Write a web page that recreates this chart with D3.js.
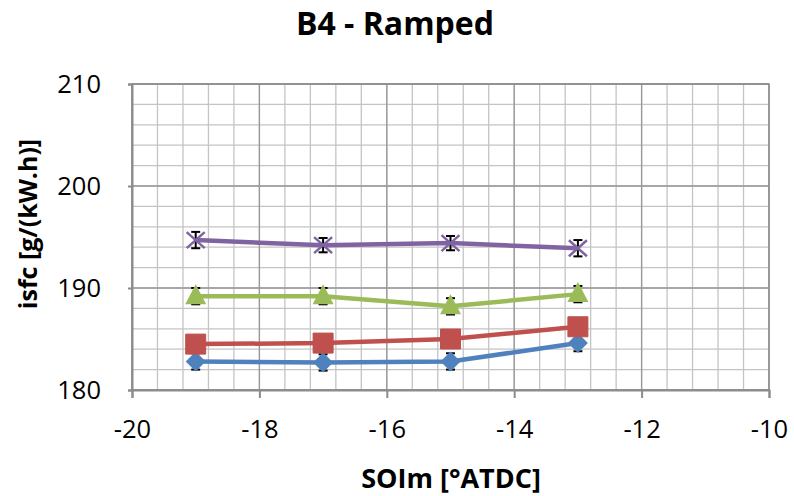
<!DOCTYPE html>
<html>
<head>
<meta charset="utf-8">
<script src="https://cdn.jsdelivr.net/npm/d3@7"></script>
<style>
  body { margin: 0; background: #fff; }
  text { font-family: "Open Sans", sans-serif; fill: #000; }
</style>
</head>
<body>
<div id="chart"></div>
<script>
// SOI of main injection, deg ATDC
var soim = [-19, -17, -15, -13];

// isfc values per series, g/(kW.h)
var blueVals   = [182.8, 182.7, 182.8, 184.6];
var redVals    = [184.5, 184.6, 185.0, 186.2];
var greenVals  = [189.2, 189.2, 188.2, 189.4];
var purpleVals = [194.7, 194.2, 194.4, 193.9];

// error bar half widths
var blueErr   = [0.8, 0.8, 0.8, 0.8];
var redErr    = [0.8, 0.8, 0.8, 0.8];
var greenErr  = [0.8, 0.8, 0.8, 0.8];
var purpleErr = [0.8, 0.7, 0.7, 0.8];

var xTicks = [-20, -18, -16, -14, -12, -10];
var yTicks = [180, 190, 200, 210];

var width = 794, height = 496;
var mLeft = 132, mRight = 769, mTop = 84, mBottom = 390;

var series = [
  {name: "blue",   vals: blueVals,   err: blueErr,   color: "#4F81BD", marker: "diamond"},
  {name: "red",    vals: redVals,    err: redErr,    color: "#C0504D", marker: "square"},
  {name: "green",  vals: greenVals,  err: greenErr,  color: "#9BBB59", marker: "triangle"},
  {name: "purple", vals: purpleVals, err: purpleErr, color: "#8064A2", marker: "x"}
];

var svg = d3.select("#chart")
  .append("svg")
  .attr("width", width)
  .attr("height", height);

var x = d3.scaleLinear().domain([-20, -10]).range([mLeft, mRight]);
var y = d3.scaleLinear().domain([180, 210]).range([mBottom, mTop]);

// minor grid
var grid = svg.append("g").attr("class", "grid");
grid.selectAll("line.vminor")
  .data(d3.range(-20, -10.001, 0.4))
  .enter().append("line")
  .attr("x1", function(d) { return x(d); })
  .attr("x2", function(d) { return x(d); })
  .attr("y1", mTop).attr("y2", mBottom)
  .attr("stroke", "#c4c4c4").attr("stroke-width", 1.3);
grid.selectAll("line.hminor")
  .data(d3.range(180, 210.001, 2))
  .enter().append("line")
  .attr("y1", function(d) { return y(d); })
  .attr("y2", function(d) { return y(d); })
  .attr("x1", mLeft).attr("x2", mRight)
  .attr("stroke", "#c4c4c4").attr("stroke-width", 1.3);
// major grid
grid.selectAll("line.vmajor")
  .data(xTicks)
  .enter().append("line")
  .attr("x1", function(d) { return x(d); })
  .attr("x2", function(d) { return x(d); })
  .attr("y1", mTop).attr("y2", mBottom)
  .attr("stroke", "#989898").attr("stroke-width", 1.3);
grid.selectAll("line.hmajor")
  .data(yTicks)
  .enter().append("line")
  .attr("y1", function(d) { return y(d); })
  .attr("y2", function(d) { return y(d); })
  .attr("x1", mLeft).attr("x2", mRight)
  .attr("stroke", "#989898").attr("stroke-width", 1.3);

var fmt = function(d) { return String(d); };

// axes
var xAxis = svg.append("g")
  .attr("transform", "translate(0," + mBottom + ")")
  .call(d3.axisBottom(x).tickValues(xTicks).tickSize(8).tickPadding(22).tickFormat(fmt));
var yAxis = svg.append("g")
  .attr("transform", "translate(" + mLeft + ",0)")
  .call(d3.axisLeft(y).tickValues(yTicks).tickSize(4).tickPadding(27).tickFormat(fmt));
[xAxis, yAxis].forEach(function(a) {
  a.select(".domain").attr("stroke", "#8c8c8c").attr("stroke-width", 2);
  a.selectAll(".tick line").attr("stroke", "#8c8c8c").attr("stroke-width", 2);
  a.selectAll(".tick text").style("font-size", "25.5px").style("font-family", "Open Sans").attr("fill", "#000");
});
svg.append("rect")
  .attr("x", mLeft).attr("y", mTop)
  .attr("width", mRight - mLeft).attr("height", mBottom - mTop)
  .attr("fill", "none").attr("stroke", "#8c8c8c").attr("stroke-width", 1.5);

var line = d3.line()
  .x(function(d) { return x(d[0]); })
  .y(function(d) { return y(d[1]); });

series.forEach(function(s) {
  var pts = soim.map(function(v, i) { return [v, s.vals[i], s.err[i]]; });
  var g = svg.append("g").attr("class", "series-" + s.name);

  g.append("path")
    .datum(pts)
    .attr("d", line)
    .attr("fill", "none")
    .attr("stroke", s.color)
    .attr("stroke-width", 4.5);

  // error bars
  var eb = g.selectAll("g.err").data(pts).enter().append("g");
  eb.append("line")
    .attr("x1", function(d) { return x(d[0]); })
    .attr("x2", function(d) { return x(d[0]); })
    .attr("y1", function(d) { return y(d[1] - d[2]); })
    .attr("y2", function(d) { return y(d[1] + d[2]); })
    .attr("stroke", "#000").attr("stroke-width", 2);
  [-1, 1].forEach(function(sg) {
    eb.append("line")
      .attr("x1", function(d) { return x(d[0]) - 4.5; })
      .attr("x2", function(d) { return x(d[0]) + 4.5; })
      .attr("y1", function(d) { return y(d[1] + sg * d[2]); })
      .attr("y2", function(d) { return y(d[1] + sg * d[2]); })
      .attr("stroke", "#000").attr("stroke-width", 2);
  });

  var m = g.selectAll("path.marker").data(pts).enter().append("path")
    .attr("transform", function(d) { return "translate(" + x(d[0]) + "," + y(d[1]) + ")"; });
  if (s.marker === "diamond") {
    m.attr("d", "M0,-10L10,0L0,10L-10,0Z").attr("fill", s.color);
  } else if (s.marker === "square") {
    m.attr("d", "M-10,-10H10V10H-10Z").attr("fill", s.color)
      .attr("stroke", s.color).attr("stroke-width", 1).attr("stroke-linejoin", "round");
  } else if (s.marker === "triangle") {
    m.attr("d", "M0,-12L10.5,8L-10.5,8Z").attr("fill", s.color);
  } else {
    m.attr("d", "M-9,-8L9,8M-9,8L9,-8").attr("fill", "none")
      .attr("stroke", s.color).attr("stroke-width", 2.5);
  }
});

// titles
svg.append("text")
  .attr("x", 395).attr("y", 35)
  .attr("text-anchor", "middle")
  .style("font-size", "32px").style("font-weight", "bold")
  .text("B4 - Ramped");

svg.append("text")
  .attr("x", 451).attr("y", 488)
  .attr("text-anchor", "middle")
  .style("font-size", "27px").style("font-weight", "bold")
  .text("SOIm [°ATDC]");

svg.append("text")
  .attr("transform", "translate(37,224) rotate(-90)")
  .attr("text-anchor", "middle")
  .style("font-size", "25px").style("font-weight", "bold")
  .text("isfc [g/(kW.h)]");
</script>
</body>
</html>
